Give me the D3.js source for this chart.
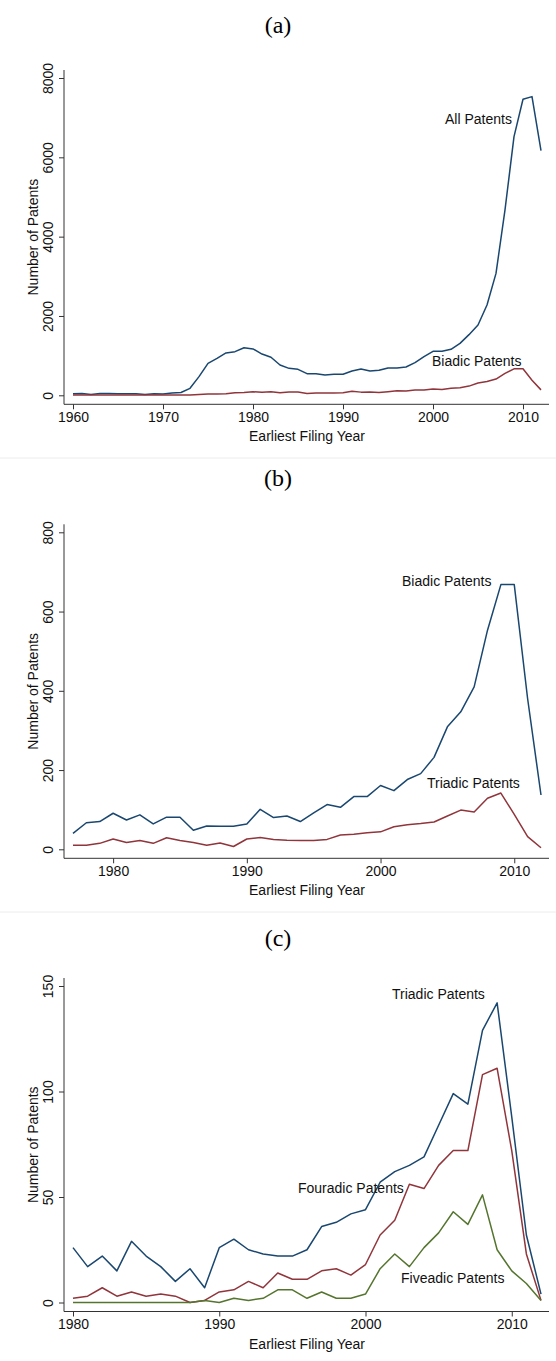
<!DOCTYPE html>
<html>
<head>
<meta charset="utf-8">
<script src="https://cdn.jsdelivr.net/npm/d3@7"></script>
<style>
  body { margin: 0; background: #fff; }
  svg { display: block; font-family: "Liberation Sans", Arial, sans-serif; }
  .title { font-family: "Liberation Serif", "DejaVu Serif", serif; font-size: 24px; }
  .axis path, .axis line { stroke: #333; }
  .axis text { font-size: 14px; fill: #111; }
  .lbl { font-size: 14px; fill: #111; }
</style>
</head>
<body>
<svg id="chart" width="556" height="1361"></svg>
<script>
// panel (a): all vs biadic, 1960-2012
const yearsA = d3.range(1960, 2013);
const allPatents = [40, 45, 20, 45, 45, 40, 40, 40, 20, 40,
  30, 60, 70, 176, 470, 806, 930, 1067, 1100, 1200,
  1170, 1040, 958, 764, 680, 655, 546, 546, 512, 530,
  530, 613, 664, 613, 630, 690, 690, 714, 823, 974,
  1109, 1109, 1160, 1310, 1529, 1772, 2276, 3074, 4673, 6522,
  7465, 7531, 6170];
// biadic counts before 1977 (only shown in panel a)
const biadicEarly = [5, 5, 5, 5, 5, 5, 5, 5, 5, 5, 5, 5, 5, 10, 20, 30, 35];

// panel (b): biadic vs triadic, 1977-2012
const yearsB = d3.range(1977, 2013);
const biadic = [40, 67, 70, 91, 74, 87, 64, 81, 81, 48,
  59, 58, 58, 64, 101, 80, 84, 70, 92, 113,
  106, 133, 133, 161, 148, 176, 191, 232, 309, 347,
  410, 553, 668, 668, 380, 137];
const triadicEarly = [10, 10, 15]; // 1977-1979

// panel (c): triadic, fouradic, fiveadic, 1980-2012
const yearsC = d3.range(1980, 2013);
const triadic = [26, 17, 22, 15, 29, 22, 17, 10, 16, 7,
  26, 30, 25, 23, 22, 22, 25, 36, 38, 42,
  44, 57, 62, 65, 69, 84, 99, 94, 129, 142,
  88, 32, 4];
const fouradic = [2, 3, 7, 3, 5, 3, 4, 3, 0, 1,
  5, 6, 10, 7, 14, 11, 11, 15, 16, 13,
  18, 32, 39, 56, 54, 65, 72, 72, 108, 111,
  72, 23, 1];
const fiveadic = [0, 0, 0, 0, 0, 0, 0, 0, 0, 1,
  0, 2, 1, 2, 6, 6, 2, 5, 2, 2,
  4, 16, 23, 17, 26, 33, 43, 37, 51, 25,
  15, 9, 1];

const blue = '#1a476f', red = '#90353b', green = '#55752f';

const svg = d3.select('#chart');

function zip(xs, ys) {
  return xs.map((x, i) => ({ year: x, value: ys[i] }));
}

function drawPanel(cfg) {
  const xScale = d3.scaleLinear().domain(cfg.xDomain).range([73, 541]);
  const yScale = d3.scaleLinear().domain(cfg.yDomain).range([cfg.y0, cfg.yTop]);
  const axisY = cfg.y0 + 9;

  svg.append('text')
      .attr('class', 'title')
      .attr('x', 278)
      .attr('y', cfg.titleY)
      .attr('text-anchor', 'middle')
      .text(cfg.title);

  // x axis
  const xg = svg.append('g')
      .attr('class', 'axis')
      .attr('transform', `translate(0,${axisY})`)
      .call(d3.axisBottom(xScale).tickValues(cfg.xTicks).tickFormat(d3.format('d'))
        .tickSizeOuter(0).tickSize(5).tickPadding(3));
  xg.select('.domain').attr('d', `M64,0H549`);

  // y axis
  const yg = svg.append('g')
      .attr('class', 'axis')
      .attr('transform', 'translate(64,0)')
      .call(d3.axisLeft(yScale).tickValues(cfg.yTicks).tickFormat(d3.format('d'))
        .tickSizeOuter(0).tickSize(5));
  yg.select('.domain').attr('d', `M0,${axisY}V${cfg.yTop - 8}`);
  yg.selectAll('.tick text')
      .attr('x', null).attr('dy', null)
      .attr('text-anchor', 'middle')
      .attr('transform', 'translate(-11,0) rotate(-90)');

  svg.append('text')
      .attr('class', 'lbl')
      .attr('x', 307)
      .attr('y', axisY + 37)
      .attr('text-anchor', 'middle')
      .text('Earliest Filing Year');

  svg.append('text')
      .attr('class', 'lbl')
      .attr('transform', `translate(38,${(axisY + cfg.yTop - 8) / 2}) rotate(-90)`)
      .attr('text-anchor', 'middle')
      .text('Number of Patents');

  const line = d3.line()
      .x(d => xScale(d.year))
      .y(d => yScale(d.value));

  cfg.series.forEach(s => {
    svg.append('path')
        .datum(s.data)
        .attr('d', line)
        .attr('fill', 'none')
        .attr('stroke', s.color)
        .attr('stroke-width', 1.5)
        .attr('stroke-linejoin', 'round');
  });

  cfg.labels.forEach(l => {
    svg.append('text')
        .attr('class', 'lbl')
        .attr('x', l.x)
        .attr('y', l.y)
        .text(l.text);
  });
}

// light separators between the panels
[458, 912].forEach(y => {
  svg.append('line')
      .attr('x1', 0).attr('x2', 556)
      .attr('y1', y).attr('y2', y)
      .attr('stroke', '#ececec');
});

drawPanel({
  title: '(a)', titleY: 33,
  xDomain: [1960, 2012], xTicks: d3.range(1960, 2011, 10),
  yDomain: [0, 8000], yTicks: [0, 2000, 4000, 6000, 8000],
  y0: 395.3, yTop: 78,
  series: [
    { data: zip(yearsA, allPatents), color: blue },
    { data: zip(yearsA, biadicEarly.concat(biadic)), color: red }
  ],
  labels: [
    { text: 'All Patents', x: 445, y: 124 },
    { text: 'Biadic Patents', x: 432, y: 366 }
  ]
});

drawPanel({
  title: '(b)', titleY: 486,
  xDomain: [1977, 2012], xTicks: [1980, 1990, 2000, 2010],
  yDomain: [0, 800], yTicks: [0, 200, 400, 600, 800],
  y0: 849.3, yTop: 532.3,
  series: [
    { data: zip(yearsB, biadic), color: blue },
    { data: zip(yearsB, triadicEarly.concat(triadic)), color: red }
  ],
  labels: [
    { text: 'Biadic Patents', x: 402, y: 586 },
    { text: 'Triadic Patents', x: 427, y: 788 }
  ]
});

drawPanel({
  title: '(c)', titleY: 946,
  xDomain: [1980, 2012], xTicks: [1980, 1990, 2000, 2010],
  yDomain: [0, 150], yTicks: [0, 50, 100, 150],
  y0: 1302.5, yTop: 986,
  series: [
    { data: zip(yearsC, triadic), color: blue },
    { data: zip(yearsC, fouradic), color: red },
    { data: zip(yearsC, fiveadic), color: green }
  ],
  labels: [
    { text: 'Triadic Patents', x: 392, y: 999 },
    { text: 'Fouradic Patents', x: 298, y: 1193 },
    { text: 'Fiveadic Patents', x: 401, y: 1283 }
  ]
});
</script>
</body>
</html>
